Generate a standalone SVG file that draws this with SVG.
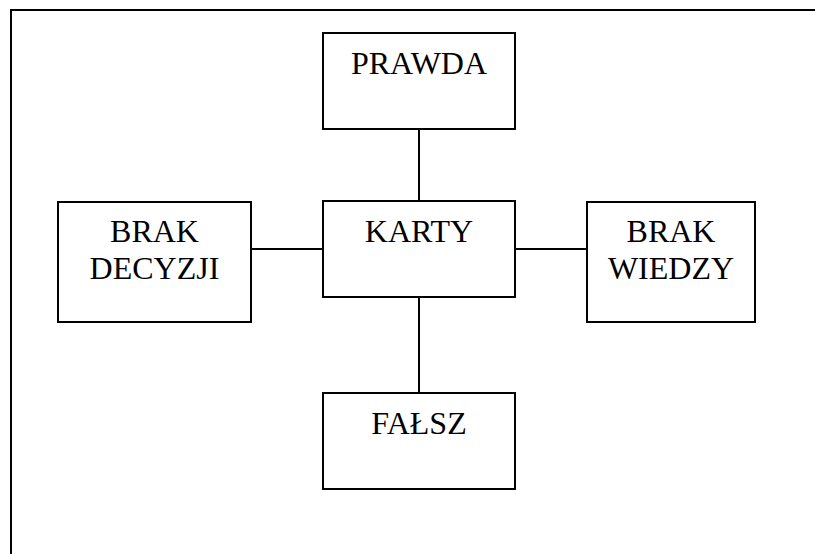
<svg xmlns="http://www.w3.org/2000/svg" width="815" height="554" viewBox="0 0 815 554">
  <style>
    .box { fill: #ffffff; stroke: #000000; stroke-width: 2; }
    .link { stroke: #000000; stroke-width: 2; fill: none; }
    .label { font-family: "Liberation Serif", "Times New Roman", serif; font-size: 32px; fill: #000000; text-anchor: middle; }
  </style>
  <rect x="0" y="0" width="815" height="554" fill="#ffffff"/>
  <!-- outer frame, open past the right and bottom edges -->
  <path d="M11 560 V10 H820" class="link"/>

  <g id="connectors">
    <line class="link" x1="419" y1="129" x2="419" y2="201"/>
    <line class="link" x1="419" y1="297" x2="419" y2="393"/>
    <line class="link" x1="251" y1="249" x2="323" y2="249"/>
    <line class="link" x1="515" y1="249" x2="587" y2="249"/>
  </g>

  <g id="prawda">
    <rect class="box" x="323" y="33" width="192" height="96"/>
    <text class="label" x="419" y="74">PRAWDA</text>
  </g>
  <g id="karty">
    <rect class="box" x="323" y="201" width="192" height="96"/>
    <text class="label" x="419" y="242">KARTY</text>
  </g>
  <g id="brak-decyzji">
    <rect class="box" x="58" y="202" width="193" height="120"/>
    <text class="label" x="154.5" y="242">BRAK</text>
    <text class="label" x="154.5" y="279">DECYZJI</text>
  </g>
  <g id="brak-wiedzy">
    <rect class="box" x="587" y="202" width="168" height="120"/>
    <text class="label" x="671" y="242">BRAK</text>
    <text class="label" x="671" y="279">WIEDZY</text>
  </g>
  <g id="falsz">
    <rect class="box" x="323" y="393" width="192" height="96"/>
    <text class="label" x="419" y="434">FAŁSZ</text>
  </g>
</svg>
